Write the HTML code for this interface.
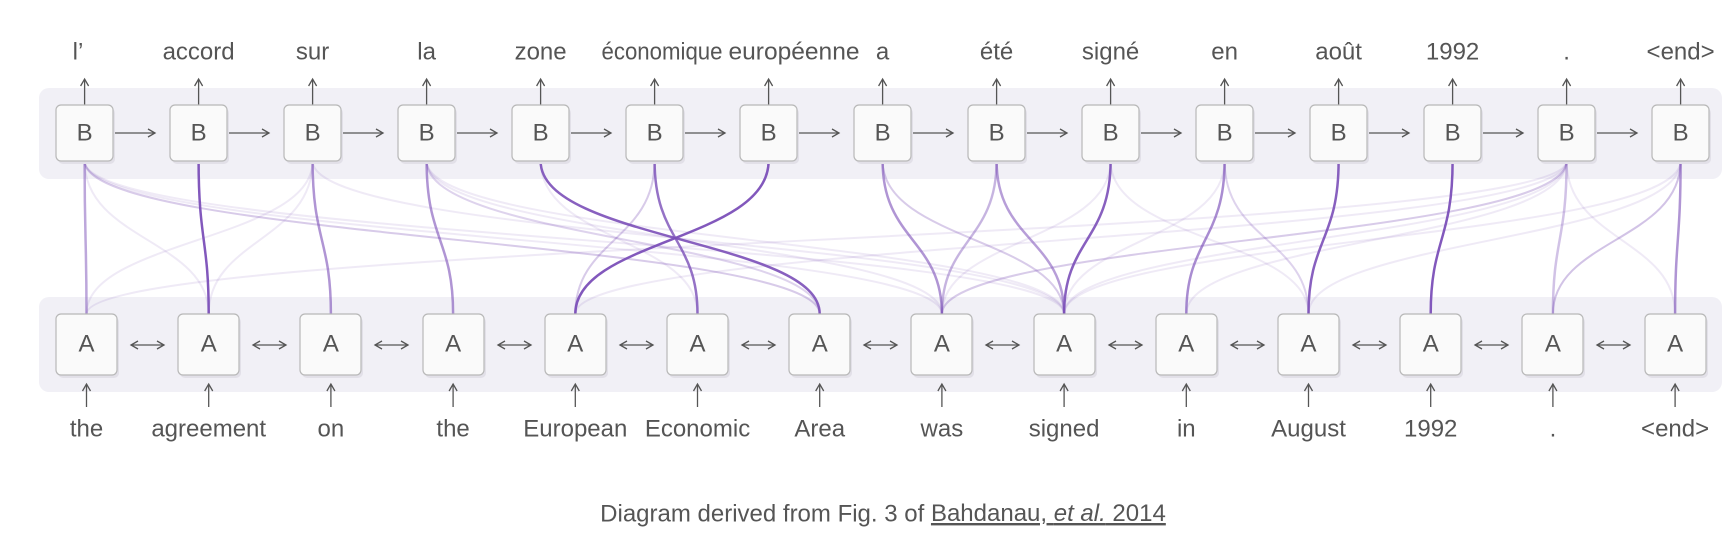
<!DOCTYPE html>
<html><head><meta charset="utf-8"><style>
body{margin:0;background:#fff;}
svg{display:block}
text{font-family:"Liberation Sans","DejaVu Sans",sans-serif;fill:#555;font-size:24px;text-anchor:middle;dominant-baseline:middle}
</style></head><body>
<svg width="1725" height="539" viewBox="0 0 1725 539" xmlns="http://www.w3.org/2000/svg">
<defs>
<marker id="ah" markerWidth="10" markerHeight="10" refX="8" refY="5" orient="auto" markerUnits="userSpaceOnUse"><path d="M1,1 L8,5 L1,9" fill="none" stroke="#555" stroke-width="1.3"/></marker>
<marker id="as" markerWidth="10" markerHeight="10" refX="2" refY="5" orient="auto" markerUnits="userSpaceOnUse"><path d="M9,1 L2,5 L9,9" fill="none" stroke="#555" stroke-width="1.3"/></marker>
</defs>
<rect x="39" y="88" width="1683" height="91" rx="10" fill="#f1f0f6"/>
<rect x="39" y="297" width="1683" height="95" rx="10" fill="#f1f0f6"/>
<g fill="none" stroke="#7b4fb8" stroke-linecap="round">
<g stroke-width="2" stroke-opacity="0.12">
<path d="M84.6 161 C84.6 240,941.9 240,941.9 314"/>
<path d="M84.6 161 C84.6 240,1064.1 240,1064.1 314"/>
<path d="M84.6 161 C84.6 240,819.7 240,819.7 314"/>
<path d="M84.6 161 C84.6 240,208.7 240,208.7 314"/>
<path d="M312.6 161 C312.6 240,1064.1 240,1064.1 314"/>
<path d="M312.6 161 C312.6 240,86.5 240,86.5 314"/>
<path d="M312.6 161 C312.6 240,208.7 240,208.7 314"/>
<path d="M426.6 161 C426.6 240,1064.1 240,1064.1 314"/>
<path d="M426.6 161 C426.6 240,941.9 240,941.9 314"/>
<path d="M540.6 161 C540.6 240,697.5 240,697.5 314"/>
<path d="M654.6 161 C654.6 240,575.3 240,575.3 314"/>
<path d="M882.6 161 C882.6 240,1064.1 240,1064.1 314"/>
<path d="M996.6 161 C996.6 240,941.9 240,941.9 314"/>
<path d="M1110.6 161 C1110.6 240,1308.5 240,1308.5 314"/>
<path d="M1110.6 161 C1110.6 240,941.9 240,941.9 314"/>
<path d="M1566.6 161 C1566.6 240,86.5 240,86.5 314"/>
<path d="M1566.6 161 C1566.6 240,575.3 240,575.3 314"/>
<path d="M1566.6 161 C1566.6 240,941.9 240,941.9 314"/>
<path d="M1566.6 161 C1566.6 240,1064.1 240,1064.1 314"/>
<path d="M1566.6 161 C1566.6 240,1186.3 240,1186.3 314"/>
<path d="M1680.6 161 C1680.6 240,1552.9 240,1552.9 314"/>
<path d="M1680.6 161 C1680.6 240,1064.1 240,1064.1 314"/>
<path d="M1680.6 161 C1680.6 240,1308.5 240,1308.5 314"/>
<path d="M1224.6 161 C1224.6 240,1064.1 240,1064.1 314"/>
<path d="M1566.6 161 C1566.6 240,1675.1 240,1675.1 314"/>
</g>
<path d="M84.6 161 C84.6 240,819.7 240,819.7 314" stroke-width="2" stroke-opacity="0.2"/>
<path d="M426.6 161 C426.6 240,819.7 240,819.7 314" stroke-width="2" stroke-opacity="0.25"/>
<path d="M654.6 161 C654.6 240,575.3 240,575.3 314" stroke-width="2" stroke-opacity="0.2"/>
<path d="M882.6 161 C882.6 240,1064.1 240,1064.1 314" stroke-width="2" stroke-opacity="0.2"/>
<path d="M1224.6 161 C1224.6 240,1308.5 240,1308.5 314" stroke-width="2" stroke-opacity="0.25"/>
<path d="M1680.6 161 C1680.6 240,1552.9 240,1552.9 314" stroke-width="2" stroke-opacity="0.25"/>
<path d="M1566.6 161 C1566.6 240,941.9 240,941.9 314" stroke-width="2" stroke-opacity="0.2"/>
<path d="M84.6 161 C84.6 240,86.5 240,86.5 314" stroke-width="2.5" stroke-opacity="0.5"/>
<path d="M198.6 161 C198.6 240,208.7 240,208.7 314" stroke-width="2.5" stroke-opacity="0.95"/>
<path d="M312.6 161 C312.6 240,330.9 240,330.9 314" stroke-width="2.5" stroke-opacity="0.6"/>
<path d="M426.6 161 C426.6 240,453.1 240,453.1 314" stroke-width="2.5" stroke-opacity="0.6"/>
<path d="M540.6 161 C540.6 240,819.7 240,819.7 314" stroke-width="2.5" stroke-opacity="0.9"/>
<path d="M654.6 161 C654.6 240,697.5 240,697.5 314" stroke-width="2.5" stroke-opacity="0.8"/>
<path d="M768.6 161 C768.6 240,575.3 240,575.3 314" stroke-width="2.5" stroke-opacity="0.95"/>
<path d="M882.6 161 C882.6 240,941.9 240,941.9 314" stroke-width="2.5" stroke-opacity="0.6"/>
<path d="M996.6 161 C996.6 240,941.9 240,941.9 314" stroke-width="2.5" stroke-opacity="0.35"/>
<path d="M996.6 161 C996.6 240,1064.1 240,1064.1 314" stroke-width="2.5" stroke-opacity="0.55"/>
<path d="M1110.6 161 C1110.6 240,1064.1 240,1064.1 314" stroke-width="2.5" stroke-opacity="0.9"/>
<path d="M1224.6 161 C1224.6 240,1186.3 240,1186.3 314" stroke-width="2.5" stroke-opacity="0.65"/>
<path d="M1338.6 161 C1338.6 240,1308.5 240,1308.5 314" stroke-width="2.5" stroke-opacity="0.9"/>
<path d="M1452.6 161 C1452.6 240,1430.7 240,1430.7 314" stroke-width="2.5" stroke-opacity="0.95"/>
<path d="M1566.6 161 C1566.6 240,1552.9 240,1552.9 314" stroke-width="2.5" stroke-opacity="0.35"/>
<path d="M1680.6 161 C1680.6 240,1675.1 240,1675.1 314" stroke-width="2.5" stroke-opacity="0.6"/>
</g>
<g stroke="#555" stroke-width="1.3" fill="none" marker-end="url(#ah)">
<line x1="84.6" y1="105" x2="84.6" y2="79"/><line x1="198.6" y1="105" x2="198.6" y2="79"/><line x1="312.6" y1="105" x2="312.6" y2="79"/><line x1="426.6" y1="105" x2="426.6" y2="79"/><line x1="540.6" y1="105" x2="540.6" y2="79"/><line x1="654.6" y1="105" x2="654.6" y2="79"/><line x1="768.6" y1="105" x2="768.6" y2="79"/><line x1="882.6" y1="105" x2="882.6" y2="79"/><line x1="996.6" y1="105" x2="996.6" y2="79"/><line x1="1110.6" y1="105" x2="1110.6" y2="79"/><line x1="1224.6" y1="105" x2="1224.6" y2="79"/><line x1="1338.6" y1="105" x2="1338.6" y2="79"/><line x1="1452.6" y1="105" x2="1452.6" y2="79"/><line x1="1566.6" y1="105" x2="1566.6" y2="79"/><line x1="1680.6" y1="105" x2="1680.6" y2="79"/>
<line x1="86.5" y1="407" x2="86.5" y2="384"/><line x1="208.7" y1="407" x2="208.7" y2="384"/><line x1="330.9" y1="407" x2="330.9" y2="384"/><line x1="453.1" y1="407" x2="453.1" y2="384"/><line x1="575.3" y1="407" x2="575.3" y2="384"/><line x1="697.5" y1="407" x2="697.5" y2="384"/><line x1="819.7" y1="407" x2="819.7" y2="384"/><line x1="941.9" y1="407" x2="941.9" y2="384"/><line x1="1064.1" y1="407" x2="1064.1" y2="384"/><line x1="1186.3" y1="407" x2="1186.3" y2="384"/><line x1="1308.5" y1="407" x2="1308.5" y2="384"/><line x1="1430.7" y1="407" x2="1430.7" y2="384"/><line x1="1552.9" y1="407" x2="1552.9" y2="384"/><line x1="1675.1" y1="407" x2="1675.1" y2="384"/>
<line x1="113" y1="133" x2="155" y2="133"/><line x1="227" y1="133" x2="269" y2="133"/><line x1="341" y1="133" x2="383" y2="133"/><line x1="455" y1="133" x2="497" y2="133"/><line x1="569" y1="133" x2="611" y2="133"/><line x1="683" y1="133" x2="725" y2="133"/><line x1="797" y1="133" x2="839" y2="133"/><line x1="911" y1="133" x2="953" y2="133"/><line x1="1025" y1="133" x2="1067" y2="133"/><line x1="1139" y1="133" x2="1181" y2="133"/><line x1="1253" y1="133" x2="1295" y2="133"/><line x1="1367" y1="133" x2="1409" y2="133"/><line x1="1481" y1="133" x2="1523" y2="133"/><line x1="1595" y1="133" x2="1637" y2="133"/>
</g>
<g stroke="#555" stroke-width="1.3" fill="none" marker-end="url(#ah)" marker-start="url(#as)">
<line x1="131" y1="345" x2="164" y2="345"/><line x1="253" y1="345" x2="286" y2="345"/><line x1="375" y1="345" x2="408" y2="345"/><line x1="498" y1="345" x2="531" y2="345"/><line x1="620" y1="345" x2="653" y2="345"/><line x1="742" y1="345" x2="775" y2="345"/><line x1="864" y1="345" x2="897" y2="345"/><line x1="986" y1="345" x2="1019" y2="345"/><line x1="1109" y1="345" x2="1142" y2="345"/><line x1="1231" y1="345" x2="1264" y2="345"/><line x1="1353" y1="345" x2="1386" y2="345"/><line x1="1475" y1="345" x2="1508" y2="345"/><line x1="1597" y1="345" x2="1630" y2="345"/>
</g>
<g fill="#e2e0e8">
<rect x="58" y="108" width="57" height="56" rx="5"/><rect x="172" y="108" width="57" height="56" rx="5"/><rect x="286" y="108" width="57" height="56" rx="5"/><rect x="400" y="108" width="57" height="56" rx="5"/><rect x="514" y="108" width="57" height="56" rx="5"/><rect x="628" y="108" width="57" height="56" rx="5"/><rect x="742" y="108" width="57" height="56" rx="5"/><rect x="856" y="108" width="57" height="56" rx="5"/><rect x="970" y="108" width="57" height="56" rx="5"/><rect x="1084" y="108" width="57" height="56" rx="5"/><rect x="1198" y="108" width="57" height="56" rx="5"/><rect x="1312" y="108" width="57" height="56" rx="5"/><rect x="1426" y="108" width="57" height="56" rx="5"/><rect x="1540" y="108" width="57" height="56" rx="5"/><rect x="1654" y="108" width="57" height="56" rx="5"/>
<rect x="58" y="317" width="61" height="61" rx="5"/><rect x="180" y="317" width="61" height="61" rx="5"/><rect x="302" y="317" width="61" height="61" rx="5"/><rect x="425" y="317" width="61" height="61" rx="5"/><rect x="547" y="317" width="61" height="61" rx="5"/><rect x="669" y="317" width="61" height="61" rx="5"/><rect x="791" y="317" width="61" height="61" rx="5"/><rect x="913" y="317" width="61" height="61" rx="5"/><rect x="1036" y="317" width="61" height="61" rx="5"/><rect x="1158" y="317" width="61" height="61" rx="5"/><rect x="1280" y="317" width="61" height="61" rx="5"/><rect x="1402" y="317" width="61" height="61" rx="5"/><rect x="1524" y="317" width="61" height="61" rx="5"/><rect x="1647" y="317" width="61" height="61" rx="5"/>
</g>
<g fill="#fafafa" stroke="#b8b8b8" stroke-width="1.2">
<rect x="56" y="105" width="57" height="56" rx="5"/><rect x="170" y="105" width="57" height="56" rx="5"/><rect x="284" y="105" width="57" height="56" rx="5"/><rect x="398" y="105" width="57" height="56" rx="5"/><rect x="512" y="105" width="57" height="56" rx="5"/><rect x="626" y="105" width="57" height="56" rx="5"/><rect x="740" y="105" width="57" height="56" rx="5"/><rect x="854" y="105" width="57" height="56" rx="5"/><rect x="968" y="105" width="57" height="56" rx="5"/><rect x="1082" y="105" width="57" height="56" rx="5"/><rect x="1196" y="105" width="57" height="56" rx="5"/><rect x="1310" y="105" width="57" height="56" rx="5"/><rect x="1424" y="105" width="57" height="56" rx="5"/><rect x="1538" y="105" width="57" height="56" rx="5"/><rect x="1652" y="105" width="57" height="56" rx="5"/>
<rect x="56" y="314" width="61" height="61" rx="5"/><rect x="178" y="314" width="61" height="61" rx="5"/><rect x="300" y="314" width="61" height="61" rx="5"/><rect x="423" y="314" width="61" height="61" rx="5"/><rect x="545" y="314" width="61" height="61" rx="5"/><rect x="667" y="314" width="61" height="61" rx="5"/><rect x="789" y="314" width="61" height="61" rx="5"/><rect x="911" y="314" width="61" height="61" rx="5"/><rect x="1034" y="314" width="61" height="61" rx="5"/><rect x="1156" y="314" width="61" height="61" rx="5"/><rect x="1278" y="314" width="61" height="61" rx="5"/><rect x="1400" y="314" width="61" height="61" rx="5"/><rect x="1522" y="314" width="61" height="61" rx="5"/><rect x="1645" y="314" width="61" height="61" rx="5"/>
</g>
<g>
<text x="84.6" y="134">B</text><text x="198.6" y="134">B</text><text x="312.6" y="134">B</text><text x="426.6" y="134">B</text><text x="540.6" y="134">B</text><text x="654.6" y="134">B</text><text x="768.6" y="134">B</text><text x="882.6" y="134">B</text><text x="996.6" y="134">B</text><text x="1110.6" y="134">B</text><text x="1224.6" y="134">B</text><text x="1338.6" y="134">B</text><text x="1452.6" y="134">B</text><text x="1566.6" y="134">B</text><text x="1680.6" y="134">B</text>
<text x="86.5" y="345">A</text><text x="208.7" y="345">A</text><text x="330.9" y="345">A</text><text x="453.1" y="345">A</text><text x="575.3" y="345">A</text><text x="697.5" y="345">A</text><text x="819.7" y="345">A</text><text x="941.9" y="345">A</text><text x="1064.1" y="345">A</text><text x="1186.3" y="345">A</text><text x="1308.5" y="345">A</text><text x="1430.7" y="345">A</text><text x="1552.9" y="345">A</text><text x="1675.1" y="345">A</text>
</g>
<g>
<text x="78" y="53">l’</text><text x="198.6" y="53">accord</text><text x="312.6" y="53">sur</text><text x="426.6" y="53">la</text><text x="540.6" y="53">zone</text><text x="662" y="53" textLength="121" lengthAdjust="spacingAndGlyphs">économique</text><text x="794" y="53" textLength="131" lengthAdjust="spacingAndGlyphs">européenne</text><text x="882.6" y="53">a</text><text x="996.6" y="53">été</text><text x="1110.6" y="53">signé</text><text x="1224.6" y="53">en</text><text x="1338.6" y="53">août</text><text x="1452.6" y="53">1992</text><text x="1566.6" y="53">.</text><text x="1680.6" y="53">&lt;end&gt;</text>
<text x="86.5" y="430">the</text><text x="208.7" y="430">agreement</text><text x="330.9" y="430">on</text><text x="453.1" y="430">the</text><text x="575.3" y="430">European</text><text x="697.5" y="430">Economic</text><text x="819.7" y="430">Area</text><text x="941.9" y="430">was</text><text x="1064.1" y="430">signed</text><text x="1186.3" y="430">in</text><text x="1308.5" y="430">August</text><text x="1430.7" y="430">1992</text><text x="1552.9" y="430">.</text><text x="1675.1" y="430">&lt;end&gt;</text>
</g>
<text x="883" y="515">Diagram derived from Fig. 3 of <tspan text-decoration="underline">Bahdanau, <tspan font-style="italic">et al.</tspan> 2014</tspan></text>
</svg>
</body></html>
